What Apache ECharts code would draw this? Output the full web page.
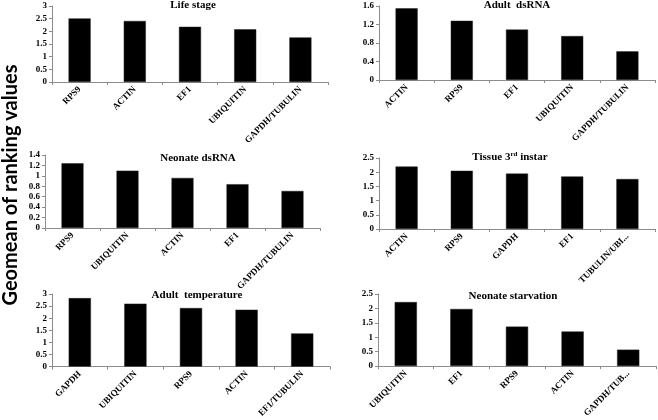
<!DOCTYPE html>
<html><head><meta charset="utf-8">
<script src="https://cdn.jsdelivr.net/npm/echarts@6/dist/echarts.min.js"></script>
<style>html,body{margin:0;padding:0;background:#fff}#c{width:658px;height:420px}</style>
</head><body><div id="c"></div>
<script>
// ---- data ----
const titles = ['Life stage', 'Adult  dsRNA', 'Neonate dsRNA', 'Tissue 3{sup|rd} instar', 'Adult  temperature', 'Neonate starvation'];
const cats1 = ['RPS9', 'ACTIN', 'EF1', 'UBIQUITIN', 'GAPDH/TUBULIN'];
const vals1 = [2.51, 2.41, 2.18, 2.08, 1.76];
const cats2 = ['ACTIN', 'RPS9', 'EF1', 'UBIQUITIN', 'GAPDH/TUBULIN'];
const vals2 = [1.55, 1.28, 1.09, 0.95, 0.62];
const cats3 = ['RPS9', 'UBIQUITIN', 'ACTIN', 'EF1', 'GAPDH/TUBULIN'];
const vals3 = [1.24, 1.10, 0.96, 0.84, 0.71];
const cats4 = ['ACTIN', 'RPS9', 'GAPDH', 'EF1', 'TUBULIN/UBI...'];
const vals4 = [2.20, 2.05, 1.95, 1.85, 1.76];
const cats5 = ['GAPDH', 'UBIQUITIN', 'RPS9', 'ACTIN', 'EF1/TUBULIN'];
const vals5 = [2.83, 2.60, 2.42, 2.35, 1.37];
const cats6 = ['UBIQUITIN', 'EF1', 'RPS9', 'ACTIN', 'GAPDH/TUB...'];
const vals6 = [2.22, 1.98, 1.37, 1.20, 0.57];
const yMax = [3, 1.6, 1.4, 2.5, 3, 2.5];
const yStep = [0.5, 0.4, 0.2, 0.5, 0.5, 0.5];
const yAxisTitle = 'Geomean of ranking values';

// ---- layout ----
const grids = [
  {left: 52, top: 6, width: 276, height: 76},
  {left: 379, top: 6, width: 276, height: 74},
  {left: 45, top: 155, width: 275, height: 73},
  {left: 379, top: 158, width: 276, height: 71},
  {left: 52, top: 294, width: 278, height: 74},
  {left: 378, top: 294, width: 278, height: 74}
];
const titlePos = [[193, 5], [517, 5], [198, 158], [510, 157], [197, 295], [513, 296]];

const cats = [cats1, cats2, cats3, cats4, cats5, cats6];
const vals = [vals1, vals2, vals3, vals4, vals5, vals6];
const serif = '"Liberation Serif", "Times New Roman", serif';
const axisCol = '#8c8c8c';

const option = {
  animation: false,
  grid: grids.map(g => Object.assign({containLabel: false}, g)),
  xAxis: cats.map((c, i) => ({
    type: 'category', gridIndex: i, data: c,
    axisLine: {lineStyle: {color: axisCol, width: 1}},
    axisTick: {show: true, length: 3, lineStyle: {color: axisCol}},
    axisLabel: {rotate: 45, margin: 6, fontFamily: serif, fontWeight: 'bold', fontSize: 9, color: '#000', interval: 0}
  })),
  yAxis: yMax.map((m, i) => ({
    type: 'value', gridIndex: i, min: 0, max: m, interval: yStep[i],
    splitLine: {show: false},
    axisLine: {show: true, lineStyle: {color: axisCol, width: 1}},
    axisTick: {show: true, length: 3, lineStyle: {color: axisCol}},
    axisLabel: {margin: 5, fontFamily: serif, fontWeight: 'bold', fontSize: 9, color: '#000'}
  })),
  series: vals.map((v, i) => ({
    type: 'bar', xAxisIndex: i, yAxisIndex: i, data: v, barWidth: '40%',
    itemStyle: {color: '#000', borderColor: '#222', borderWidth: 0.5}
  })),
  graphic: titles.map((t, i) => ({
    type: 'text', x: titlePos[i][0], y: titlePos[i][1],
    style: {
      text: t, fill: '#000', font: 'bold 11px ' + serif,
      textAlign: 'center', textVerticalAlign: 'middle',
      rich: {sup: {fontSize: 7, fontWeight: 'bold', fontFamily: serif, verticalAlign: 'top', fill: '#000', padding: [0, 0, 5, 0]}}
    }
  })).concat([{
    type: 'text', x: 11, y: 185, rotation: Math.PI / 2,
    style: {text: yAxisTitle, fill: '#000', font: 'bold 20px Lato, "Open Sans", sans-serif', textAlign: 'center', textVerticalAlign: 'middle'}
  }])
};
const chart = echarts.init(document.getElementById('c'), null, {renderer: 'canvas'});
chart.setOption(option);
</script></body></html>
